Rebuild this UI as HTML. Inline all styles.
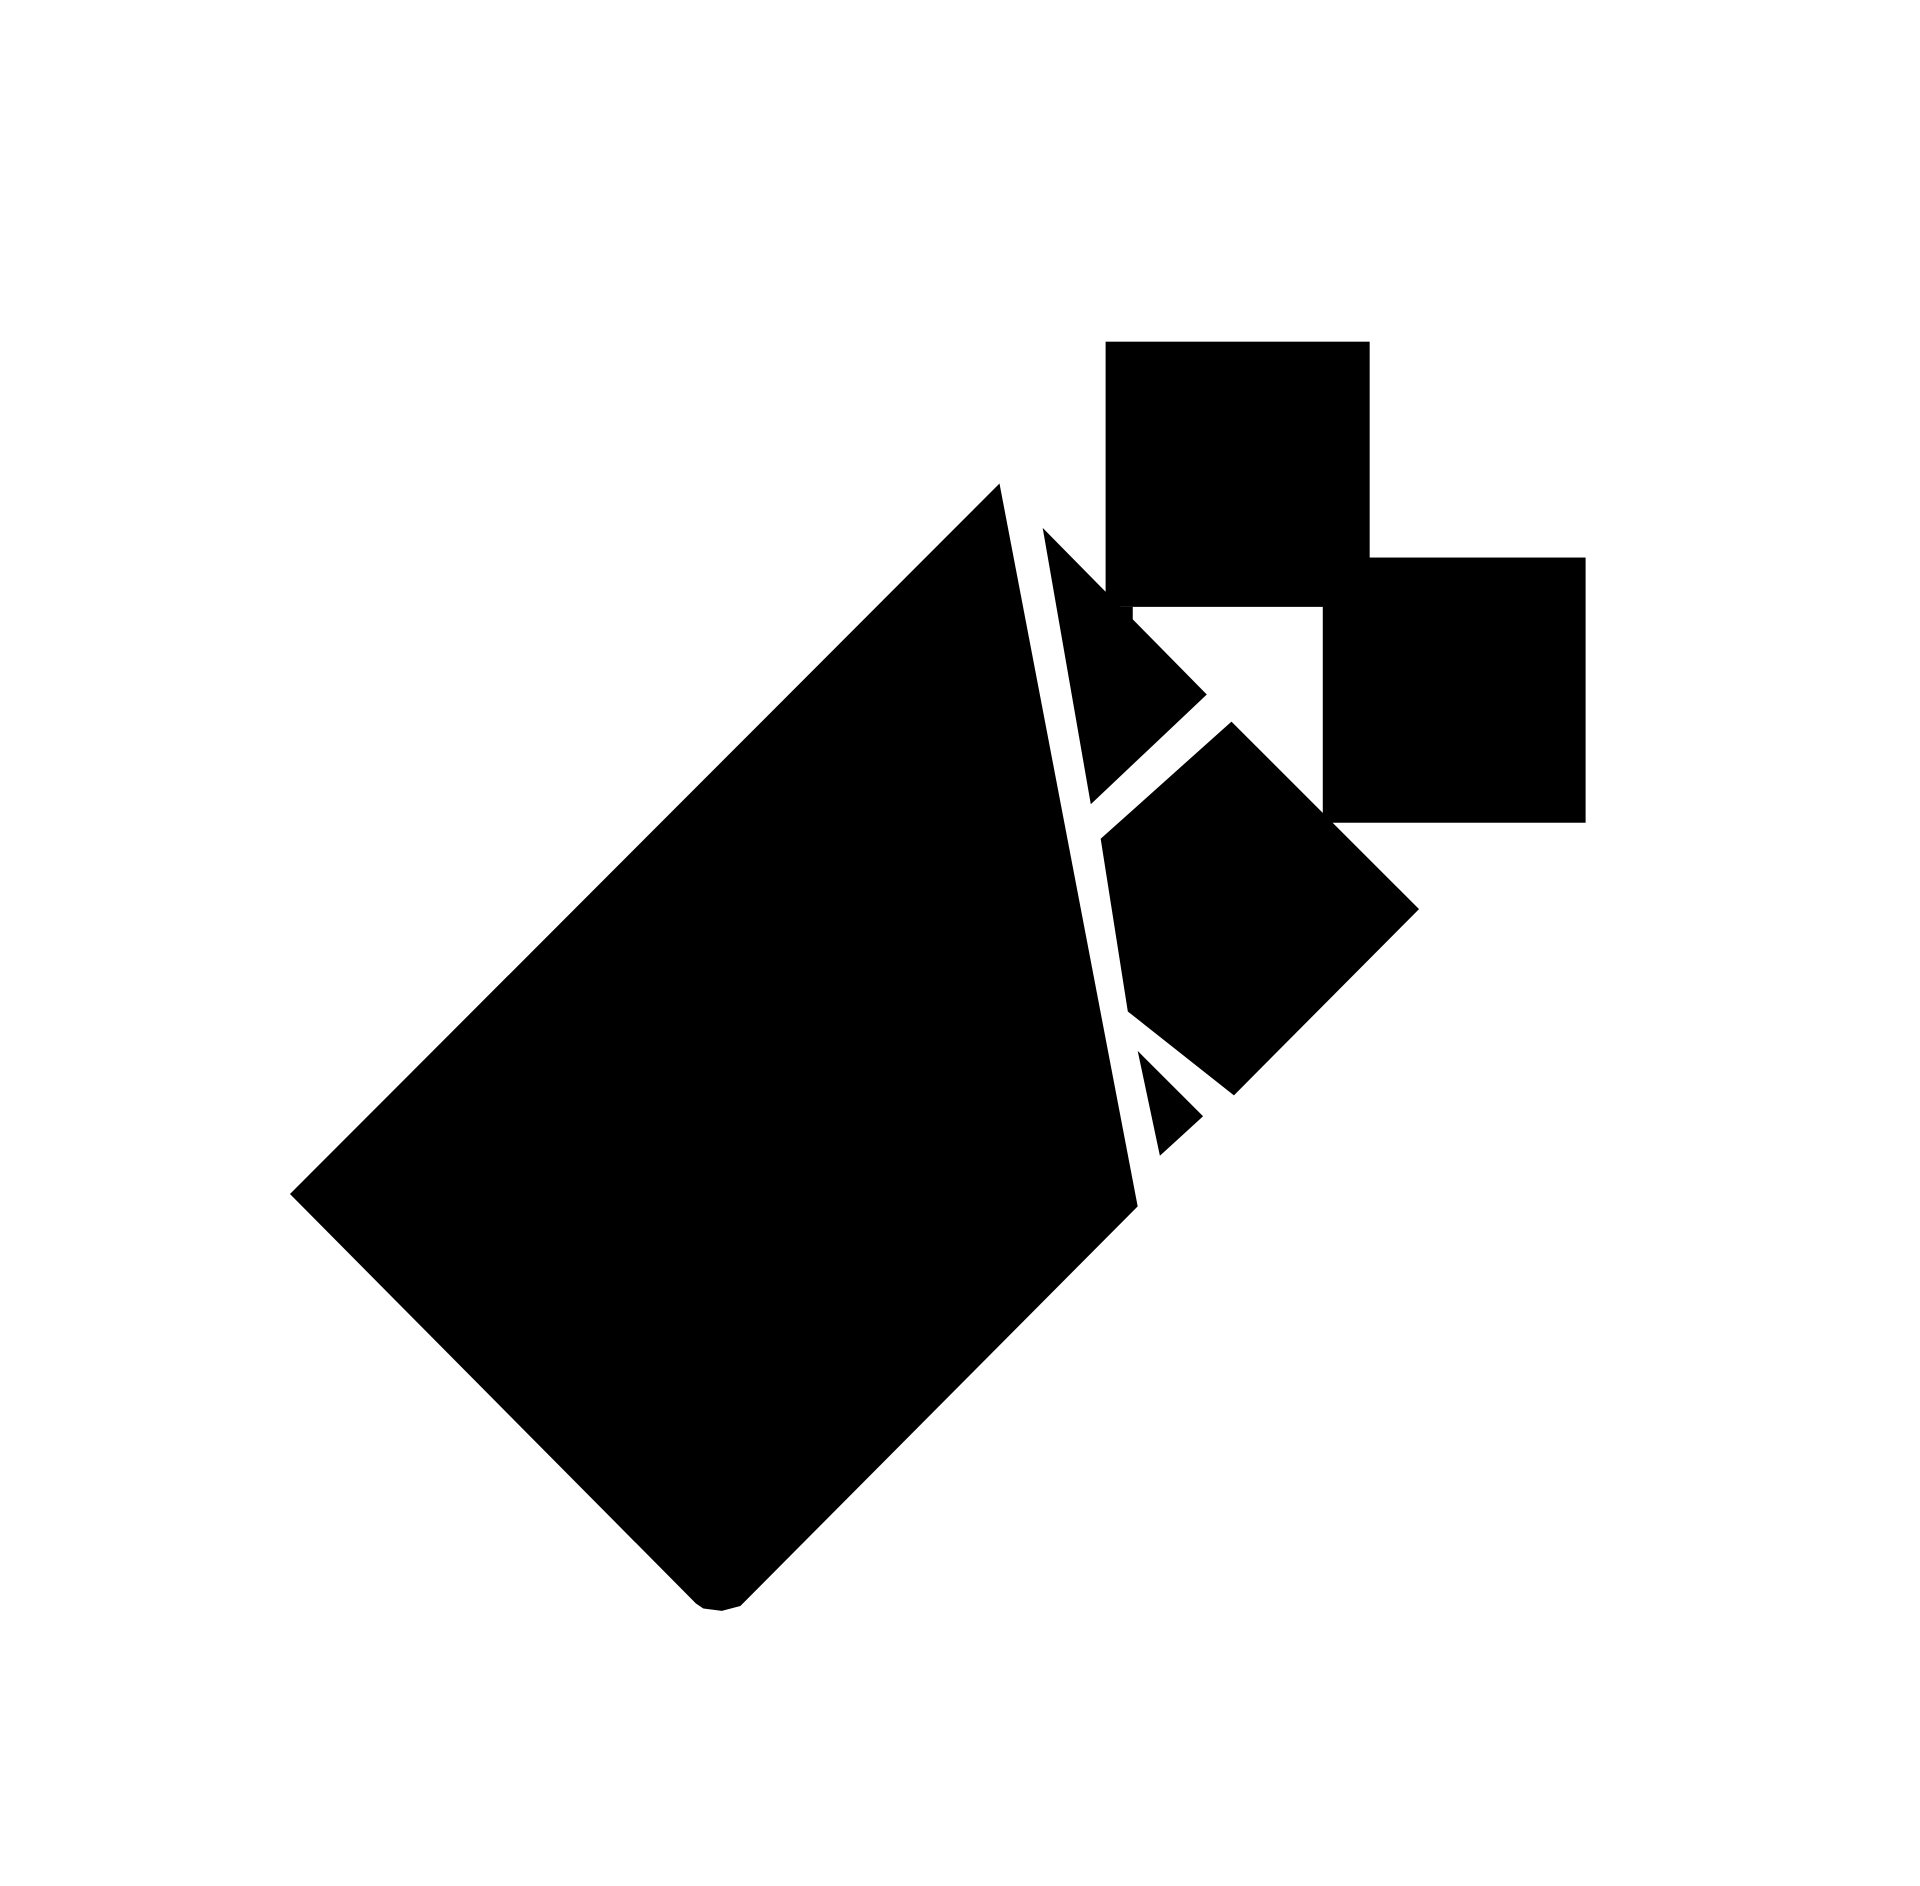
<!DOCTYPE html>
<html><head><meta charset="utf-8"><style>
html,body{margin:0;padding:0;background:#fff;width:1920px;height:1886px;overflow:hidden}
svg{display:block}
</style></head><body>
<svg width="1920" height="1886" viewBox="0 0 1556 1529" preserveAspectRatio="none">
<rect width="1556" height="1529" fill="#fff"/>
<g fill="#000">
<polygon points="235,968 810,392 922,978 600,1302 585,1306 570,1304 564,1300"/>
<rect x="896" y="277" width="214" height="215"/>
<rect x="1072" y="452" width="213" height="215"/>
<rect x="896" y="492" width="22" height="30"/>
<polygon points="845,428 978,563 884,652"/>
<polygon points="892,680 998,585 1150,737 1000,888 914,820"/>
<polygon points="922,852 975,905 940,937"/>
</g>
</svg>
</body></html>
